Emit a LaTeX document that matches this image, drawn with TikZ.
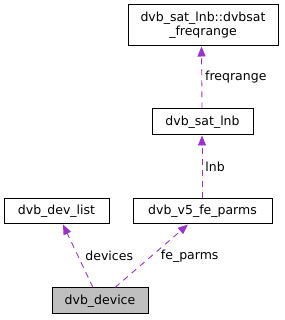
\documentclass[tikz,border=0pt]{standalone}
\usepackage{fontspec}
\setmainfont{DejaVu Sans}
\usepackage{tikz}
\usetikzlibrary{arrows.meta, positioning, calc}
\definecolor{edgepurple}{HTML}{9A32CD}

\begin{document}
\begin{tikzpicture}[x=1pt, y=1pt,
    box/.style={draw=black, line width=1pt, fill=white, rectangle, inner sep=0pt, font=\fontsize{12.5}{14}\selectfont},
    rel/.style={draw=edgepurple, line width=0.9pt, dash pattern=on 6pt off 5pt, -{Triangle[length=10pt, width=8pt, fill=edgepurple]}},
    lbl/.style={font=\fontsize{12.5}{14}\selectfont, inner sep=1pt}]
    \useasboundingbox (0, 0) rectangle (284, 320);
    \node[box, minimum width=150pt, minimum height=41pt, align=center] (freq) at (203, 294.5) {dvb\_sat\_lnb::dvbsat\\\_freqrange};
    \node[box, minimum width=101pt, minimum height=26pt] (lnb) at (202.5, 198) {dvb\_sat\_lnb};
    \node[box, minimum width=139pt, minimum height=25pt] (fe) at (202.5, 108.5) {dvb\_v5\_fe\_parms};
    \node[box, minimum width=105pt, minimum height=25pt] (devlist) at (56.5, 108.5) {dvb\_dev\_list};
    \node[box, fill=black!25, minimum width=96pt, minimum height=26pt] (device) at (100, 19) {dvb\_device};

    \draw[rel] ([xshift=-0.5pt]lnb.north) -- node[lbl, right=2pt] {freqrange} ([xshift=-1.5pt]freq.south);
    \draw[rel] ([xshift=-0.5pt]fe.north) -- node[lbl, right=2pt] {lnb} ([xshift=-0.5pt]lnb.south);
    \draw[rel] ([xshift=-7pt]device.north) -- node[lbl, right=6pt] {devices} ([xshift=6.5pt]devlist.south);
    \draw[rel] ([xshift=15pt]device.north) -- node[lbl, right=8pt] {fe\_parms} ([xshift=-14.5pt]fe.south);
\end{tikzpicture}
\end{document}
